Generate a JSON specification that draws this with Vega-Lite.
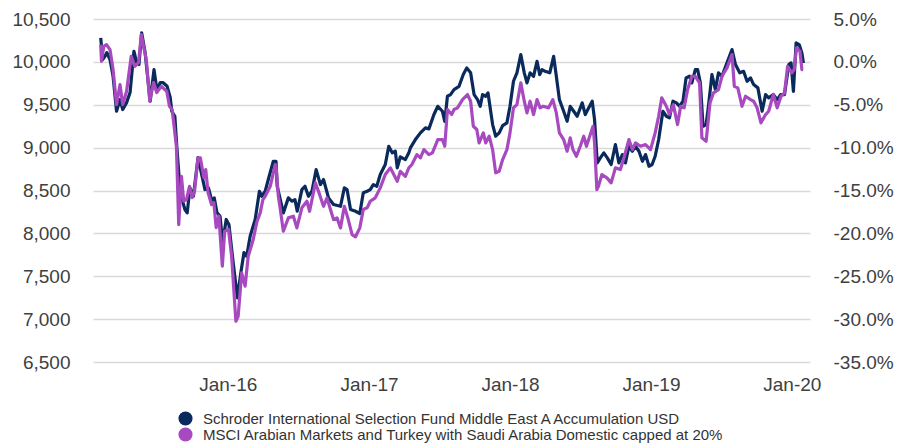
{
  "$schema": "https://vega.github.io/schema/vega-lite/v6.json",
  "width": 717,
  "height": 343,
  "autosize": {"type": "none"},
  "padding": {"left": 93, "top": 19, "right": 87, "bottom": 83},
  "background": "white",
  "config": {
    "font": "Liberation Sans",
    "view": {"stroke": null},
    "axis": {"domain": false, "ticks": false, "labelFontSize": 19, "labelColor": "#404040", "gridColor": "#d9d9d9", "gridWidth": 1.5, "title": null},
    "legend": {"labelFontSize": 15, "labelColor": "#333333"}
  },
  "data": {"values": [
{"d":"2015-02-06","s":"f","v":10280},{"d":"2015-02-11","s":"f","v":10027},{"d":"2015-02-17","s":"f","v":10065},{"d":"2015-02-22","s":"f","v":10108},{"d":"2015-03-02","s":"f","v":10027},{"d":"2015-03-10","s":"f","v":9832},{"d":"2015-03-19","s":"f","v":9424},{"d":"2015-03-28","s":"f","v":9560},{"d":"2015-04-04","s":"f","v":9444},{"d":"2015-04-14","s":"f","v":9525},{"d":"2015-04-23","s":"f","v":9642},{"d":"2015-05-03","s":"f","v":10124},{"d":"2015-05-10","s":"f","v":9992},{"d":"2015-05-16","s":"f","v":9969},{"d":"2015-05-23","s":"f","v":10338},{"d":"2015-06-01","s":"f","v":10108},{"d":"2015-06-14","s":"f","v":9541},{"d":"2015-06-24","s":"f","v":9910},{"d":"2015-07-02","s":"f","v":9657},{"d":"2015-07-10","s":"f","v":9759},{"d":"2015-07-17","s":"f","v":9759},{"d":"2015-07-28","s":"f","v":9715},{"d":"2015-08-05","s":"f","v":9584},{"d":"2015-08-09","s":"f","v":9424},{"d":"2015-08-17","s":"f","v":9366},{"d":"2015-08-22","s":"f","v":9016},{"d":"2015-08-31","s":"f","v":8476},{"d":"2015-09-12","s":"f","v":8278},{"d":"2015-09-18","s":"f","v":8239},{"d":"2015-09-25","s":"f","v":8531},{"d":"2015-10-04","s":"f","v":8433},{"d":"2015-10-16","s":"f","v":8884},{"d":"2015-11-03","s":"f","v":8511},{"d":"2015-11-12","s":"f","v":8531},{"d":"2015-11-21","s":"f","v":8375},{"d":"2015-11-27","s":"f","v":8414},{"d":"2015-12-04","s":"f","v":8243},{"d":"2015-12-12","s":"f","v":8200},{"d":"2015-12-19","s":"f","v":7893},{"d":"2015-12-28","s":"f","v":8162},{"d":"2016-01-04","s":"f","v":8103},{"d":"2016-01-15","s":"f","v":7660},{"d":"2016-01-26","s":"f","v":7248},{"d":"2016-02-04","s":"f","v":7543},{"d":"2016-02-12","s":"f","v":7776},{"d":"2016-02-19","s":"f","v":7733},{"d":"2016-02-28","s":"f","v":7967},{"d":"2016-03-12","s":"f","v":8161},{"d":"2016-03-23","s":"f","v":8491},{"d":"2016-03-29","s":"f","v":8433},{"d":"2016-04-07","s":"f","v":8491},{"d":"2016-04-15","s":"f","v":8628},{"d":"2016-04-28","s":"f","v":8841},{"d":"2016-05-05","s":"f","v":8841},{"d":"2016-05-08","s":"f","v":8550},{"d":"2016-05-24","s":"f","v":8239},{"d":"2016-06-06","s":"f","v":8414},{"d":"2016-06-15","s":"f","v":8375},{"d":"2016-06-23","s":"f","v":8394},{"d":"2016-06-29","s":"f","v":8258},{"d":"2016-07-11","s":"f","v":8511},{"d":"2016-07-19","s":"f","v":8550},{"d":"2016-07-28","s":"f","v":8433},{"d":"2016-08-06","s":"f","v":8491},{"d":"2016-08-17","s":"f","v":8744},{"d":"2016-08-28","s":"f","v":8569},{"d":"2016-09-05","s":"f","v":8628},{"d":"2016-09-18","s":"f","v":8414},{"d":"2016-10-01","s":"f","v":8336},{"d":"2016-10-19","s":"f","v":8316},{"d":"2016-10-29","s":"f","v":8531},{"d":"2016-11-05","s":"f","v":8511},{"d":"2016-11-14","s":"f","v":8278},{"d":"2016-11-27","s":"f","v":8258},{"d":"2016-12-08","s":"f","v":8231},{"d":"2016-12-17","s":"f","v":8473},{"d":"2016-12-27","s":"f","v":8491},{"d":"2017-01-04","s":"f","v":8511},{"d":"2017-01-12","s":"f","v":8569},{"d":"2017-01-21","s":"f","v":8550},{"d":"2017-01-30","s":"f","v":8686},{"d":"2017-02-12","s":"f","v":8803},{"d":"2017-02-21","s":"f","v":9016},{"d":"2017-03-02","s":"f","v":8939},{"d":"2017-03-10","s":"f","v":8958},{"d":"2017-03-15","s":"f","v":8764},{"d":"2017-03-23","s":"f","v":8893},{"d":"2017-04-05","s":"f","v":8861},{"d":"2017-04-14","s":"f","v":8939},{"d":"2017-04-18","s":"f","v":8997},{"d":"2017-05-01","s":"f","v":9094},{"d":"2017-05-14","s":"f","v":9172},{"d":"2017-05-27","s":"f","v":9230},{"d":"2017-06-05","s":"f","v":9219},{"d":"2017-06-18","s":"f","v":9386},{"d":"2017-06-28","s":"f","v":9482},{"d":"2017-07-10","s":"f","v":9424},{"d":"2017-07-16","s":"f","v":9307},{"d":"2017-07-23","s":"f","v":9599},{"d":"2017-07-31","s":"f","v":9619},{"d":"2017-08-09","s":"f","v":9677},{"d":"2017-08-22","s":"f","v":9715},{"d":"2017-09-02","s":"f","v":9852},{"d":"2017-09-11","s":"f","v":9930},{"d":"2017-09-21","s":"f","v":9872},{"d":"2017-09-30","s":"f","v":9619},{"d":"2017-10-09","s":"f","v":9560},{"d":"2017-10-16","s":"f","v":9482},{"d":"2017-10-22","s":"f","v":9619},{"d":"2017-10-30","s":"f","v":9599},{"d":"2017-11-05","s":"f","v":9639},{"d":"2017-11-17","s":"f","v":9269},{"d":"2017-11-25","s":"f","v":9133},{"d":"2017-12-04","s":"f","v":9172},{"d":"2017-12-13","s":"f","v":9257},{"d":"2017-12-24","s":"f","v":9289},{"d":"2018-01-01","s":"f","v":9482},{"d":"2018-01-10","s":"f","v":9774},{"d":"2018-01-19","s":"f","v":9872},{"d":"2018-01-29","s":"f","v":10085},{"d":"2018-02-07","s":"f","v":9872},{"d":"2018-02-14","s":"f","v":9755},{"d":"2018-02-22","s":"f","v":9872},{"d":"2018-03-03","s":"f","v":9832},{"d":"2018-03-12","s":"f","v":10007},{"d":"2018-03-19","s":"f","v":9852},{"d":"2018-03-25","s":"f","v":9910},{"d":"2018-04-02","s":"f","v":9890},{"d":"2018-04-14","s":"f","v":9872},{"d":"2018-04-24","s":"f","v":10065},{"d":"2018-05-01","s":"f","v":9832},{"d":"2018-05-09","s":"f","v":9560},{"d":"2018-05-20","s":"f","v":9424},{"d":"2018-05-29","s":"f","v":9307},{"d":"2018-06-06","s":"f","v":9482},{"d":"2018-06-15","s":"f","v":9424},{"d":"2018-06-24","s":"f","v":9366},{"d":"2018-07-07","s":"f","v":9522},{"d":"2018-07-15","s":"f","v":9386},{"d":"2018-07-24","s":"f","v":9464},{"d":"2018-08-02","s":"f","v":9541},{"d":"2018-08-08","s":"f","v":9327},{"d":"2018-08-15","s":"f","v":8822},{"d":"2018-08-23","s":"f","v":8881},{"d":"2018-09-01","s":"f","v":8939},{"d":"2018-09-10","s":"f","v":8881},{"d":"2018-09-20","s":"f","v":8803},{"d":"2018-10-01","s":"f","v":9036},{"d":"2018-10-10","s":"f","v":8822},{"d":"2018-10-19","s":"f","v":8919},{"d":"2018-10-27","s":"f","v":8822},{"d":"2018-11-05","s":"f","v":9016},{"d":"2018-11-14","s":"f","v":8958},{"d":"2018-11-22","s":"f","v":9016},{"d":"2018-12-01","s":"f","v":8958},{"d":"2018-12-10","s":"f","v":8841},{"d":"2018-12-18","s":"f","v":8919},{"d":"2018-12-27","s":"f","v":8783},{"d":"2019-01-04","s":"f","v":8803},{"d":"2019-01-12","s":"f","v":8899},{"d":"2019-01-21","s":"f","v":9094},{"d":"2019-02-01","s":"f","v":9424},{"d":"2019-02-10","s":"f","v":9366},{"d":"2019-02-18","s":"f","v":9347},{"d":"2019-02-27","s":"f","v":9541},{"d":"2019-03-08","s":"f","v":9522},{"d":"2019-03-16","s":"f","v":9482},{"d":"2019-03-25","s":"f","v":9541},{"d":"2019-04-02","s":"f","v":9813},{"d":"2019-04-11","s":"f","v":9832},{"d":"2019-04-17","s":"f","v":9755},{"d":"2019-04-26","s":"f","v":9910},{"d":"2019-05-02","s":"f","v":9910},{"d":"2019-05-09","s":"f","v":9755},{"d":"2019-05-16","s":"f","v":9249},{"d":"2019-05-24","s":"f","v":9269},{"d":"2019-05-30","s":"f","v":9482},{"d":"2019-06-08","s":"f","v":9852},{"d":"2019-06-17","s":"f","v":9677},{"d":"2019-06-25","s":"f","v":9872},{"d":"2019-07-04","s":"f","v":9832},{"d":"2019-07-17","s":"f","v":9988},{"d":"2019-07-30","s":"f","v":10143},{"d":"2019-08-08","s":"f","v":9969},{"d":"2019-08-19","s":"f","v":9872},{"d":"2019-08-29","s":"f","v":9890},{"d":"2019-09-07","s":"f","v":9774},{"d":"2019-09-16","s":"f","v":9813},{"d":"2019-09-24","s":"f","v":9735},{"d":"2019-10-05","s":"f","v":9697},{"d":"2019-10-16","s":"f","v":9424},{"d":"2019-10-25","s":"f","v":9619},{"d":"2019-11-02","s":"f","v":9580},{"d":"2019-11-14","s":"f","v":9619},{"d":"2019-11-24","s":"f","v":9560},{"d":"2019-12-03","s":"f","v":9619},{"d":"2019-12-13","s":"f","v":9619},{"d":"2019-12-24","s":"f","v":9969},{"d":"2019-12-30","s":"f","v":9988},{"d":"2020-01-05","s":"f","v":9657},{"d":"2020-01-12","s":"f","v":10222},{"d":"2020-01-20","s":"f","v":10202},{"d":"2020-01-27","s":"f","v":10105},{"d":"2020-01-31","s":"f","v":9988},
{"d":"2015-02-06","s":"i","v":10202},{"d":"2015-02-08","s":"i","v":10007},{"d":"2015-02-14","s":"i","v":10182},{"d":"2015-02-21","s":"i","v":10202},{"d":"2015-03-02","s":"i","v":10143},{"d":"2015-03-10","s":"i","v":9910},{"d":"2015-03-19","s":"i","v":9502},{"d":"2015-03-28","s":"i","v":9735},{"d":"2015-04-04","s":"i","v":9502},{"d":"2015-04-14","s":"i","v":9657},{"d":"2015-04-26","s":"i","v":10065},{"d":"2015-05-05","s":"i","v":9949},{"d":"2015-05-15","s":"i","v":9992},{"d":"2015-05-22","s":"i","v":10318},{"d":"2015-06-04","s":"i","v":10027},{"d":"2015-06-13","s":"i","v":9541},{"d":"2015-06-23","s":"i","v":9759},{"d":"2015-07-01","s":"i","v":9642},{"d":"2015-07-13","s":"i","v":9715},{"d":"2015-07-27","s":"i","v":9657},{"d":"2015-08-03","s":"i","v":9482},{"d":"2015-08-10","s":"i","v":9444},{"d":"2015-08-21","s":"i","v":9016},{"d":"2015-08-27","s":"i","v":8103},{"d":"2015-09-03","s":"i","v":8666},{"d":"2015-09-09","s":"i","v":8375},{"d":"2015-09-16","s":"i","v":8394},{"d":"2015-09-24","s":"i","v":8549},{"d":"2015-10-01","s":"i","v":8418},{"d":"2015-10-07","s":"i","v":8491},{"d":"2015-10-16","s":"i","v":8881},{"d":"2015-10-22","s":"i","v":8881},{"d":"2015-10-31","s":"i","v":8651},{"d":"2015-11-05","s":"i","v":8744},{"d":"2015-11-11","s":"i","v":8476},{"d":"2015-11-20","s":"i","v":8336},{"d":"2015-11-26","s":"i","v":8359},{"d":"2015-12-02","s":"i","v":8068},{"d":"2015-12-09","s":"i","v":8200},{"d":"2015-12-18","s":"i","v":7617},{"d":"2015-12-24","s":"i","v":8025},{"d":"2016-01-03","s":"i","v":8045},{"d":"2016-01-11","s":"i","v":7733},{"d":"2016-01-22","s":"i","v":6975},{"d":"2016-01-28","s":"i","v":7034},{"d":"2016-02-06","s":"i","v":7540},{"d":"2016-02-15","s":"i","v":7384},{"d":"2016-02-23","s":"i","v":7733},{"d":"2016-03-07","s":"i","v":7928},{"d":"2016-03-16","s":"i","v":8126},{"d":"2016-03-25","s":"i","v":8239},{"d":"2016-04-01","s":"i","v":8394},{"d":"2016-04-07","s":"i","v":8433},{"d":"2016-04-20","s":"i","v":8549},{"d":"2016-05-03","s":"i","v":8803},{"d":"2016-05-05","s":"i","v":8783},{"d":"2016-05-11","s":"i","v":8433},{"d":"2016-05-15","s":"i","v":8316},{"d":"2016-05-24","s":"i","v":8025},{"d":"2016-06-06","s":"i","v":8181},{"d":"2016-06-19","s":"i","v":8200},{"d":"2016-06-28","s":"i","v":8064},{"d":"2016-07-11","s":"i","v":8298},{"d":"2016-07-24","s":"i","v":8375},{"d":"2016-07-31","s":"i","v":8258},{"d":"2016-08-15","s":"i","v":8589},{"d":"2016-08-23","s":"i","v":8491},{"d":"2016-09-05","s":"i","v":8316},{"d":"2016-09-14","s":"i","v":8414},{"d":"2016-09-23","s":"i","v":8278},{"d":"2016-10-01","s":"i","v":8161},{"d":"2016-10-10","s":"i","v":8181},{"d":"2016-10-19","s":"i","v":8064},{"d":"2016-10-29","s":"i","v":8316},{"d":"2016-11-07","s":"i","v":8181},{"d":"2016-11-18","s":"i","v":7986},{"d":"2016-11-27","s":"i","v":7960},{"d":"2016-12-08","s":"i","v":8064},{"d":"2016-12-17","s":"i","v":8278},{"d":"2016-12-27","s":"i","v":8298},{"d":"2017-01-04","s":"i","v":8375},{"d":"2017-01-17","s":"i","v":8414},{"d":"2017-01-30","s":"i","v":8531},{"d":"2017-02-12","s":"i","v":8686},{"d":"2017-02-25","s":"i","v":8764},{"d":"2017-03-15","s":"i","v":8608},{"d":"2017-03-23","s":"i","v":8724},{"d":"2017-04-05","s":"i","v":8666},{"d":"2017-04-14","s":"i","v":8764},{"d":"2017-04-22","s":"i","v":8803},{"d":"2017-05-05","s":"i","v":8919},{"d":"2017-05-14","s":"i","v":8881},{"d":"2017-05-23","s":"i","v":8977},{"d":"2017-06-05","s":"i","v":8919},{"d":"2017-06-14","s":"i","v":8939},{"d":"2017-06-28","s":"i","v":9094},{"d":"2017-07-10","s":"i","v":9094},{"d":"2017-07-16","s":"i","v":9016},{"d":"2017-07-23","s":"i","v":9444},{"d":"2017-08-03","s":"i","v":9386},{"d":"2017-08-09","s":"i","v":9444},{"d":"2017-08-18","s":"i","v":9464},{"d":"2017-08-31","s":"i","v":9560},{"d":"2017-09-13","s":"i","v":9619},{"d":"2017-09-21","s":"i","v":9541},{"d":"2017-09-28","s":"i","v":9249},{"d":"2017-10-07","s":"i","v":9211},{"d":"2017-10-13","s":"i","v":9055},{"d":"2017-10-24","s":"i","v":9172},{"d":"2017-10-30","s":"i","v":9055},{"d":"2017-11-08","s":"i","v":9133},{"d":"2017-11-17","s":"i","v":8977},{"d":"2017-11-25","s":"i","v":8706},{"d":"2017-12-04","s":"i","v":8724},{"d":"2017-12-13","s":"i","v":8861},{"d":"2017-12-24","s":"i","v":8977},{"d":"2018-01-01","s":"i","v":9172},{"d":"2018-01-10","s":"i","v":9464},{"d":"2018-01-19","s":"i","v":9502},{"d":"2018-01-29","s":"i","v":9755},{"d":"2018-02-07","s":"i","v":9541},{"d":"2018-02-14","s":"i","v":9405},{"d":"2018-02-22","s":"i","v":9541},{"d":"2018-03-03","s":"i","v":9386},{"d":"2018-03-12","s":"i","v":9560},{"d":"2018-03-20","s":"i","v":9464},{"d":"2018-03-28","s":"i","v":9482},{"d":"2018-04-11","s":"i","v":9464},{"d":"2018-04-22","s":"i","v":9560},{"d":"2018-05-01","s":"i","v":9405},{"d":"2018-05-09","s":"i","v":9172},{"d":"2018-05-20","s":"i","v":9094},{"d":"2018-05-29","s":"i","v":8958},{"d":"2018-06-06","s":"i","v":9114},{"d":"2018-06-13","s":"i","v":8977},{"d":"2018-06-22","s":"i","v":8899},{"d":"2018-07-02","s":"i","v":9016},{"d":"2018-07-11","s":"i","v":9133},{"d":"2018-07-18","s":"i","v":9016},{"d":"2018-07-28","s":"i","v":9152},{"d":"2018-08-04","s":"i","v":9249},{"d":"2018-08-08","s":"i","v":9055},{"d":"2018-08-14","s":"i","v":8511},{"d":"2018-08-18","s":"i","v":8549},{"d":"2018-08-27","s":"i","v":8686},{"d":"2018-09-09","s":"i","v":8647},{"d":"2018-09-20","s":"i","v":8589},{"d":"2018-10-01","s":"i","v":8764},{"d":"2018-10-14","s":"i","v":8744},{"d":"2018-10-23","s":"i","v":8881},{"d":"2018-11-05","s":"i","v":9094},{"d":"2018-11-14","s":"i","v":8977},{"d":"2018-11-22","s":"i","v":9055},{"d":"2018-12-05","s":"i","v":9016},{"d":"2018-12-18","s":"i","v":9036},{"d":"2018-12-31","s":"i","v":8977},{"d":"2019-01-12","s":"i","v":9172},{"d":"2019-01-21","s":"i","v":9366},{"d":"2019-01-29","s":"i","v":9580},{"d":"2019-02-10","s":"i","v":9482},{"d":"2019-02-18","s":"i","v":9386},{"d":"2019-02-28","s":"i","v":9502},{"d":"2019-03-11","s":"i","v":9269},{"d":"2019-03-19","s":"i","v":9482},{"d":"2019-03-28","s":"i","v":9464},{"d":"2019-04-06","s":"i","v":9677},{"d":"2019-04-17","s":"i","v":9832},{"d":"2019-04-26","s":"i","v":9832},{"d":"2019-05-07","s":"i","v":9755},{"d":"2019-05-13","s":"i","v":9114},{"d":"2019-05-24","s":"i","v":9074},{"d":"2019-06-03","s":"i","v":9522},{"d":"2019-06-12","s":"i","v":9639},{"d":"2019-06-25","s":"i","v":9677},{"d":"2019-07-04","s":"i","v":9832},{"d":"2019-07-17","s":"i","v":9930},{"d":"2019-07-30","s":"i","v":10085},{"d":"2019-08-05","s":"i","v":9715},{"d":"2019-08-14","s":"i","v":9697},{"d":"2019-08-25","s":"i","v":9482},{"d":"2019-09-03","s":"i","v":9599},{"d":"2019-09-16","s":"i","v":9560},{"d":"2019-09-24","s":"i","v":9541},{"d":"2019-10-03","s":"i","v":9464},{"d":"2019-10-13","s":"i","v":9289},{"d":"2019-10-25","s":"i","v":9386},{"d":"2019-11-02","s":"i","v":9424},{"d":"2019-11-14","s":"i","v":9619},{"d":"2019-11-24","s":"i","v":9464},{"d":"2019-12-04","s":"i","v":9599},{"d":"2019-12-13","s":"i","v":9639},{"d":"2019-12-21","s":"i","v":9949},{"d":"2020-01-01","s":"i","v":9872},{"d":"2020-01-07","s":"i","v":9910},{"d":"2020-01-13","s":"i","v":10163},{"d":"2020-01-22","s":"i","v":10124},{"d":"2020-01-27","s":"i","v":9910},{"d":"2020-01-30","s":"i","v":9910}
  ]},
  "encoding": {
    "x": {"field": "d", "type": "temporal",
      "scale": {"domain": [{"year": 2015, "month": 1, "date": 17}, {"year": 2020, "month": 2, "date": 17}]},
      "axis": {"values": [{"year": 2016, "month": 1, "date": 1}, {"year": 2017, "month": 1, "date": 1}, {"year": 2018, "month": 1, "date": 1}, {"year": 2019, "month": 1, "date": 1}, {"year": 2020, "month": 1, "date": 1}],
        "format": "%b-%y", "grid": false, "labelPadding": 13, "labelFontSize": 19}
    }
  },
  "layer": [
    {
      "mark": {"type": "line", "strokeWidth": 3.2, "strokeJoin": "round"},
      "encoding": {
        "y": {"field": "v", "type": "quantitative",
          "scale": {"domain": [6500, 10500], "nice": false, "zero": false},
          "axis": {"values": [6500, 7000, 7500, 8000, 8500, 9000, 9500, 10000, 10500], "format": ",.0f", "labelPadding": 23, "grid": true}},
        "color": {"field": "s", "type": "nominal",
          "scale": {"domain": ["f", "i"], "range": ["#0b2a5c", "#a74ac0"]}, "legend": null}
      }
    },
    {
      "mark": {"type": "point", "filled": true, "opacity": 0},
      "encoding": {
        "y": {"field": "v", "type": "quantitative",
          "scale": {"domain": [6500, 10500], "nice": false, "zero": false},
          "axis": {"orient": "right", "values": [6500, 7000, 7500, 8000, 8500, 9000, 9500, 10000, 10500], "grid": false, "labelPadding": 23,
            "labelExpr": "replace(format(datum.value / 10000 - 1, '.1%'), '\u2212', '-')"}},
        "color": {"field": "s", "type": "nominal",
          "scale": {"domain": ["f", "i"], "range": ["#0b2a5c", "#a74ac0"]},
          "legend": {"orient": "none", "legendX": 85, "legendY": 392, "direction": "vertical", "title": null,
            "symbolType": "circle", "symbolSize": 200, "symbolOpacity": 1, "symbolStrokeWidth": 0,
            "rowPadding": 0, "labelOffset": 10, "labelFontSize": 15, "labelLimit": 700,
            "labelExpr": "datum.label == 'f' ? 'Schroder International Selection Fund Middle East A Accumulation USD' : 'MSCI Arabian Markets and Turkey with Saudi Arabia Domestic capped at 20%'"}}
      }
    }
  ],
  "resolve": {"scale": {"y": "independent"}, "legend": {"color": "independent"}}
}
